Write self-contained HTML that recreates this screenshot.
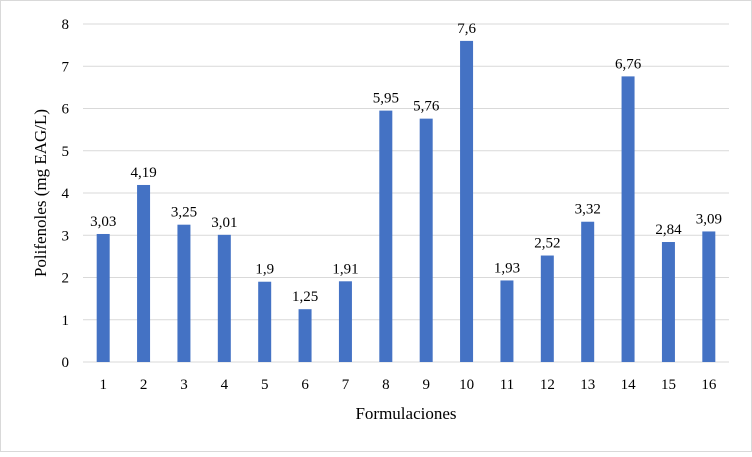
<!DOCTYPE html>
<html><head><meta charset="utf-8"><style>
body{margin:0;background:#fff}
svg, svg text{font-family:"Liberation Serif","Times New Roman","DejaVu Serif",serif}
</style></head><body>
<svg id="chart" width="752" height="452" viewBox="0 0 752 452" font-family="Liberation Serif, serif">
<rect x="0.5" y="0.5" width="751" height="451" fill="#fff" stroke="#d9d9d9"/>
<g id="grid"></g><g id="bars"></g><g id="labels"></g>
<text font-family="Liberation Serif, serif" transform="translate(46,193) rotate(-90)" text-anchor="middle" font-size="17">Polifenoles (mg EAG/L)</text>
<text font-family="Liberation Serif, serif" x="406" y="419" text-anchor="middle" font-size="17">Formulaciones</text>
</svg>
<script>
const categories=["1","2","3","4","5","6","7","8","9","10","11","12","13","14","15","16"];
const values=[3.03,4.19,3.25,3.01,1.9,1.25,1.91,5.95,5.76,7.6,1.93,2.52,3.32,6.76,2.84,3.09];
const valueLabels=["3,03","4,19","3,25","3,01","1,9","1,25","1,91","5,95","5,76","7,6","1,93","2,52","3,32","6,76","2,84","3,09"];
const yTicks=[0,1,2,3,4,5,6,7,8];
const NS="http://www.w3.org/2000/svg";
const X0=83,X1=729,Y0=362,Y8=24;
const y=v=>Y0-(v/8)*(Y0-Y8);
const step=(X1-X0)/categories.length;
const xc=i=>X0+(i+0.5)*step;
function mk(t,a,p){const e=document.createElementNS(NS,t);for(const k in a)e.setAttribute(k,a[k]);p.appendChild(e);return e;}
const F="Liberation Serif, serif";
const g=document.getElementById('grid'),b=document.getElementById('bars'),l=document.getElementById('labels');
yTicks.forEach(t=>{
 const ln=mk('line',{x1:X0,x2:X1,y1:y(t),y2:y(t),stroke:'#d9d9d9','stroke-width':1},g);
 
 
 const tx=mk('text',{x:69,y:y(t)+5,'text-anchor':'end','font-size':15,'font-family':F},g);
 tx.textContent=t;
 
 
});
categories.forEach((c,i)=>{
 const r=mk('rect',{x:xc(i)-6.5,y:y(values[i]),width:13,height:Y0-y(values[i]),fill:'#4472c4'},b);
 
 
 const v=mk('text',{x:xc(i),y:y(values[i])-8,'text-anchor':'middle','font-size':15,'font-family':F},l);
 v.textContent=valueLabels[i];
 
 
 const t=mk('text',{x:xc(i),y:389,'text-anchor':'middle','font-size':15,'font-family':F},l);
 t.textContent=c;
 
 
});
</script>
</body></html>
